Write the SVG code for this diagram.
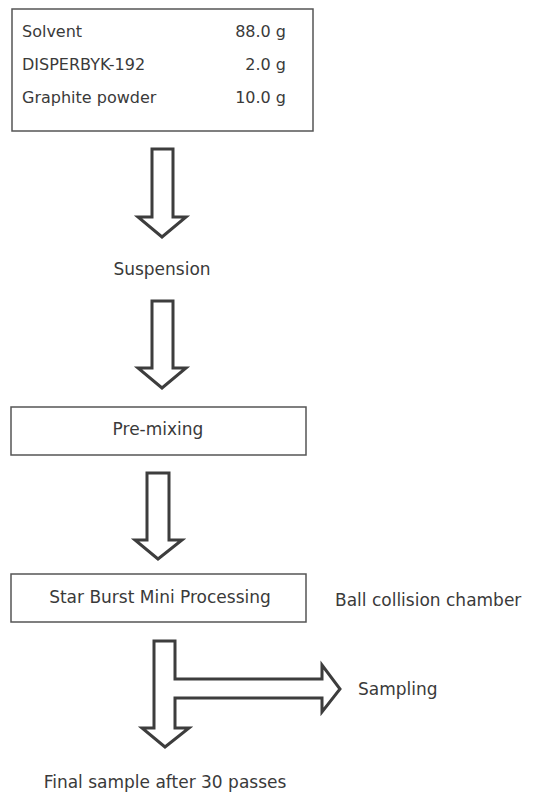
<svg xmlns="http://www.w3.org/2000/svg" width="536" height="794" viewBox="0 0 536 794">
<style>
text{font-family:"DejaVu Sans","Open Sans",sans-serif;font-size:17px;fill:#3a3a3a}
.b{font-size:16px}
.box{fill:#fff;stroke:#555;stroke-width:1.5}
.arr{fill:#fff;stroke:#3d3d3d;stroke-width:3;stroke-linejoin:miter}
.m{text-anchor:middle}
.e{text-anchor:end}
</style>
<rect width="536" height="794" fill="#fff"/>
<g id="ingredients">
<rect class="box" x="12" y="9" width="301" height="122"/>
<text class="b" x="22" y="37">Solvent</text><text class="b e" x="286" y="37">88.0 g</text>
<text class="b" x="22" y="70">DISPERBYK-192</text><text class="b e" x="286" y="70">2.0 g</text>
<text class="b" x="22" y="103">Graphite powder</text><text class="b e" x="286" y="103">10.0 g</text>
</g>
<g id="suspension"><text class="m" x="162" y="275">Suspension</text></g>
<g id="premixing"><rect class="box" x="11" y="407" width="295" height="48"/><text class="m" x="158" y="435">Pre-mixing</text></g>
<g id="starburst"><rect class="box" x="11" y="574" width="295" height="48"/><text class="m" x="160" y="603">Star Burst Mini Processing</text></g>
<g id="chamber"><text x="335" y="606">Ball collision chamber</text></g>
<g id="sampling"><text x="358" y="695">Sampling</text></g>
<g id="final"><text class="m" x="165" y="788">Final sample after 30 passes</text></g>
<g id="connectors">
<path class="arr" d="M152,149 H173 V217 H186 L162,237 L138,217 H152 Z"/>
<path class="arr" d="M152,301 H173 V368 H186 L162,388 L138,368 H152 Z"/>
<path class="arr" d="M147,473 H169 V540 H182 L158,559 L135,540 H147 Z"/>
<path class="arr" d="M154,641 H175 V679 H322 V665 L340,689 L322,712 V698 H175 V728 H189 L165,747 L142,728 H154 Z"/>
</g>
</svg>
